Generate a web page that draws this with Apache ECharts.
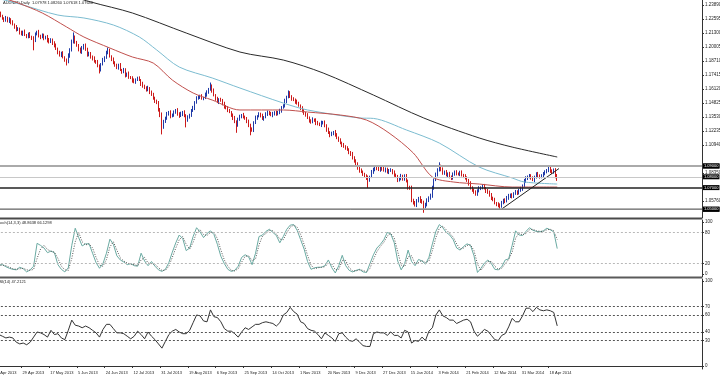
<!DOCTYPE html>
<html><head><meta charset="utf-8">
<script src="https://cdn.jsdelivr.net/npm/echarts@6/dist/echarts.min.js"></script>
<style>html,body{margin:0;padding:0;background:#fff}#c{width:720px;height:375px}</style>
</head><body><div id="c"></div>
<script>
// ---------- data ----------
const headerText = 'AUDNZD,Daily  1.07978 1.08260 1.07618 1.07640';
const stochText = 'Stoch(14,3,3) 48.8638 66.1298';
const rsiText = 'RSI(14) 47.2121';
const firstDate = [2013, 3, 10];   // 10 Apr 2013, Sunday bars included, no Saturdays
const firstOpen = 1.2330;
const closes = [
1.2340,1.2318,1.2335,1.2306,1.2290,1.2262,1.2250,1.2271,1.2240,1.2255,
1.2232,1.2210,1.2185,1.2158,1.2170,1.2135,1.2120,1.2140,1.2112,1.2098,
1.2120,1.2095,1.2084,1.2060,1.2118,1.2139,1.2105,1.2093,1.2110,1.2080,
1.2095,1.2062,1.2047,1.2070,1.2035,1.2019,1.1985,1.1950,1.1926,1.1945,
1.1905,1.1880,1.1862,1.1920,1.1973,1.2050,1.2095,1.2040,1.2019,1.1980,
1.1954,1.1990,1.2019,1.1975,1.1930,1.1945,1.1905,1.1898,1.1870,1.1862,
1.1825,1.1790,1.1840,1.1880,1.1905,1.1950,1.1968,1.1915,1.1890,1.1850,
1.1834,1.1810,1.1830,1.1788,1.1770,1.1790,1.1741,1.1755,1.1720,1.1714,
1.1690,1.1677,1.1700,1.1712,1.1695,1.1660,1.1640,1.1621,1.1605,1.1620,
1.1584,1.1560,1.1529,1.1505,1.1482,1.1420,1.1371,1.1260,1.1310,1.1344,
1.1380,1.1399,1.1360,1.1371,1.1395,1.1418,1.1385,1.1362,1.1380,1.1399,
1.1365,1.1325,1.1350,1.1371,1.1410,1.1436,1.1490,1.1529,1.1540,1.1547,
1.1525,1.1529,1.1560,1.1584,1.1610,1.1640,1.1600,1.1556,1.1520,1.1492,
1.1515,1.1510,1.1475,1.1450,1.1436,1.1415,1.1399,1.1370,1.1344,1.1310,
1.1279,1.1330,1.1360,1.1371,1.1350,1.1344,1.1310,1.1279,1.1240,1.1233,
1.1300,1.1344,1.1360,1.1381,1.1365,1.1340,1.1353,1.1380,1.1399,1.1385,
1.1370,1.1381,1.1395,1.1380,1.1399,1.1410,1.1440,1.1455,1.1500,1.1538,
1.1575,1.1545,1.1520,1.1510,1.1495,1.1482,1.1460,1.1436,1.1410,1.1390,
1.1370,1.1344,1.1320,1.1307,1.1330,1.1325,1.1300,1.1290,1.1279,1.1300,
1.1307,1.1270,1.1233,1.1210,1.1186,1.1200,1.1214,1.1190,1.1160,1.1140,
1.1115,1.1094,1.1080,1.1066,1.1050,1.1029,1.1010,1.0974,1.0950,1.0915,
1.0881,1.0860,1.0844,1.0825,1.0807,1.0790,1.0770,1.0800,1.0844,1.0870,
1.0881,1.0875,1.0863,1.0880,1.0872,1.0860,1.0872,1.0844,1.0855,1.0863,
1.0840,1.0816,1.0800,1.0770,1.0790,1.0807,1.0780,1.0807,1.0760,1.0700,
1.0696,1.0585,1.0560,1.0539,1.0575,1.0604,1.0580,1.0567,1.0525,1.0540,
1.0585,1.0600,1.0622,1.0700,1.0770,1.0820,1.0863,1.0900,1.0870,1.0835,
1.0844,1.0816,1.0830,1.0800,1.0789,1.0820,1.0844,1.0830,1.0826,1.0840,
1.0815,1.0807,1.0790,1.0770,1.0740,1.0696,1.0680,1.0655,1.0641,1.0670,
1.0696,1.0700,1.0715,1.0695,1.0670,1.0659,1.0630,1.0604,1.0590,1.0557,
1.0545,1.0540,1.0530,1.0560,1.0585,1.0575,1.0604,1.0620,1.0631,1.0620,
1.0645,1.0659,1.0650,1.0678,1.0690,1.0715,1.0760,1.0789,1.0800,1.0807,
1.0790,1.0770,1.0800,1.0826,1.0810,1.0800,1.0807,1.0830,1.0844,1.0860,
1.0881,1.0850,1.0844,1.0863,1.0798,1.0764];
// wick extensions beyond the body, in pips
const hiWick = [
15,10,18,12,22,9,14,17,10,20,12,16,8,19,14,10,17,12,22,9,
14,19,10,16,17,12,20,9,16,14,10,17,22,12,9,19,14,10,16,12,
17,10,14,22,16,19,40,12,17,9,16,20,10,14,19,12,9,17,16,10,
19,14,12,20,10,16,28,17,9,14,19,12,16,22,10,17,14,9,19,12,
16,20,10,14,17,9,19,12,16,22,10,14,17,12,9,19,16,24,17,12,
20,10,16,14,19,9,17,12,22,10,16,14,19,12,17,20,10,16,14,12,
17,10,19,16,12,32,14,17,9,20,12,16,10,19,14,17,12,9,16,19,
12,17,14,10,20,16,9,19,12,17,14,22,10,16,12,19,9,17,14,10,
16,20,12,17,10,19,14,16,22,12,24,17,10,16,14,19,12,9,17,16,
10,19,14,12,20,9,16,17,12,19,10,14,16,22,12,17,10,19,14,12,
16,10,19,12,17,14,9,20,16,12,19,10,17,14,12,16,22,10,19,14,
17,12,16,20,10,19,14,12,17,16,9,19,14,17,10,20,12,16,19,14,
17,22,12,16,19,10,17,14,12,20,16,19,22,17,14,19,16,34,12,17,
14,19,10,16,12,20,14,17,10,16,19,12,17,14,10,19,16,12,20,14,
17,12,16,19,10,17,14,20,12,16,10,19,14,17,12,16,19,22,14,17,
12,19,16,10,17,14,20,16,12,19,17,14,10,16,19,12,17,14,16,12,
14,16,19,14,17,28];
const loWick = [
12,17,10,20,14,9,19,16,12,17,22,10,16,14,9,19,12,17,10,16,
17,12,19,90,14,10,16,20,12,17,9,19,14,10,16,22,12,17,14,19,
10,16,32,12,19,14,17,9,16,20,12,17,14,10,19,16,12,22,14,17,
12,34,16,10,19,14,17,12,20,9,16,14,19,10,17,12,22,16,14,10,
19,12,17,14,9,20,16,10,17,14,19,12,16,22,10,17,19,68,16,12,
17,14,19,10,16,12,20,17,9,19,14,68,16,12,17,10,19,14,16,20,
12,17,10,19,16,14,22,12,17,10,19,16,14,20,12,17,10,16,19,14,
72,16,12,19,10,17,14,20,56,16,19,12,17,10,16,14,22,12,17,16,
10,19,14,16,12,20,17,10,14,19,12,16,17,10,20,14,12,19,16,17,
14,10,19,16,12,17,22,14,10,19,16,12,17,14,20,10,16,19,12,17,
14,19,12,16,10,20,17,14,19,12,16,22,10,17,14,19,74,16,12,17,
19,14,10,17,16,12,20,14,19,10,17,16,12,19,14,22,16,17,12,19,
16,20,17,14,19,12,22,16,58,17,14,19,12,16,20,10,17,14,19,16,
17,12,20,14,19,16,10,17,14,20,12,19,16,17,22,14,19,12,16,17,
14,19,16,12,20,17,14,19,16,12,17,22,32,16,14,19,12,17,16,20,
16,12,19,14,17,20,12,16,19,14,17,10,19,16,12,17,14,19,16,12,
17,14,19,16,12,2];
// moving averages read at points: [bar index, price]
const maRed = [[0,1.2480],[8,1.2440],[14,1.2408],[28,1.2315],[42,1.2186],[52,1.2093],[67,1.1991],[80,1.1908],[92,1.1852],[103,1.1695],[115,1.1575],[126,1.1510],[142,1.1418],[167,1.1418],[181,1.1399],[200,1.1371],[215,1.1325],[228,1.1205],[242,1.1020],[253,1.0798],[265,1.0752],[280,1.0733],[299,1.0705],[325,1.0705]];
const maBlue = [[0,1.2460],[15,1.2398],[37,1.2296],[52,1.2269],[69,1.2204],[84,1.2093],[94,1.1973],[107,1.1815],[126,1.1714],[142,1.1621],[167,1.1482],[181,1.1418],[211,1.1344],[219,1.1340],[238,1.1233],[257,1.1112],[280,1.0890],[299,1.0789],[306,1.0752],[325,1.0733]];
const maBlack = [[15,1.2611],[56,1.2417],[80,1.2315],[111,1.2130],[142,1.1954],[167,1.1880],[190,1.1760],[219,1.1556],[248,1.1344],[280,1.1159],[299,1.1075],[325,1.0983]];
const trendLine = [[293,1.0502],[326,1.0876]];
const levels = [
  {v:1.0937, c:'#444', w:1}, {v:1.0900, c:'#aaa', w:2},
  {v:1.0715, c:'#222', w:1.5}, {v:1.0502, c:'#555', w:1}, {v:1.0465, c:'#999', w:1.5}];
const priceTicks = [1.23890,1.22595,1.21300,1.20005,1.18710,1.17415,1.16120,1.14825,1.13530,1.12235,1.10940,1.08350,1.05760];
// oscillators: one value every second bar (bars 1,3,5,...,325)
const stochK = [17,17,18,14,11,9,8,13,10,4, 8,15,59,55,50,41,44,41,18,9, 4,12,55,88,70,54,58,58,40,22,
 11,20,40,67,57,35,27,23,18,20, 16,15,40,25,16,24,15,8,5,9, 22,42,60,75,68,45,50,72,89,81,
 70,78,83,76,57,34,20,9,5,7, 15,32,37,33,18,40,72,75,82,86, 80,74,60,72,86,94,95,84,66,48,
 24,9,12,13,13,16,27,12,2,16, 36,16,7,4,7,9,4,3,20,37, 50,57,66,80,77,60,25,8,20,46,
 24,16,28,25,19,32,58,82,95,89, 80,75,66,50,46,53,58,55,35,3, 11,21,27,20,9,8,14,27,29,55,
 83,75,74,82,89,84,82,81,83,88, 85,81,48.86];
const stochD = [18,17,17,16,13,10,9,10,11,8, 7,9,30,48,55,47,44,42,30,15, 8,7,30,62,80,62,56,58,50,32,
 17,15,28,52,62,46,31,25,21,19, 18,16,27,32,21,20,19,12,7,7, 15,32,50,66,72,57,48,61,80,85,
 76,74,80,80,68,46,27,15,7,6, 10,23,34,35,26,29,56,73,78,84, 83,77,67,66,79,90,94,90,76,57,
 36,17,10,12,13,14,21,19,8,9, 26,26,12,6,6,8,7,4,11,28, 43,53,61,73,78,69,43,17,14,33,
 35,20,22,26,22,25,45,70,88,92, 85,78,71,58,48,50,55,56,45,19, 7,16,24,24,15,9,11,20,28,42,
 69,79,75,78,85,86,83,82,82,85, 86,83,66.13];
const rsi = [38,37,35,33,34,33,28,26,27,25, 28,34,40,39,37,34,42,37,38,33, 31,42,54,48,47,45,47,45,42,39,
 34,43,49,49,44,39,39,38,35,32, 35,41,37,32,40,35,31,26,21,29, 37,41,43,40,38,38,42,51,60,59,
 53,52,66,58,57,52,44,41,41,38, 34,40,45,43,46,49,49,51,52,51, 50,47,51,60,63,69,64,61,52,50,
 44,42,41,37,32,39,36,33,29,38, 39,34,30,29,32,28,24,23,23,38, 40,39,39,36,40,36,36,33,42,40,
 27,30,29,34,30,41,45,60,66,59, 57,54,54,50,52,54,55,52,41,35, 39,43,41,36,31,30,36,38,46,56,
 52,52,59,68,68,64,69,66,65,66, 65,63,47.21];
const stochTicks = [100,80,20,0];
const stochLevels = [80,20];
const rsiTicks = [100,70,60,40,30,0];
const rsiLevels = [70,60,40,30];

// ---------- build ----------
const FONT = 'Liberation Sans';
const NCAT = 409;
const MON = ['Jan','Feb','Mar','Apr','May','Jun','Jul','Aug','Sep','Oct','Nov','Dec'];
const cats = [];
let d = new Date(firstDate[0], firstDate[1], firstDate[2]);
for (let i = 0; i < NCAT; i++) {
  if (i < closes.length) {
    while (d.getDay() === 6) d.setDate(d.getDate() + 1);
    cats.push(d.getDate() + ' ' + MON[d.getMonth()] + ' ' + d.getFullYear());
    d.setDate(d.getDate() + 1);
  } else cats.push('');
}
const candles = closes.map((c, i) => {
  const o = i ? closes[i - 1] : firstOpen;
  return [o, c, Math.min(o, c) - (loWick[i] || 0) / 1e4, Math.max(o, c) + (hiWick[i] || 0) / 1e4];
});
const osc = arr => arr.map((v, k) => [1 + 2 * k, v]);
const lastClose = closes[closes.length - 1];
const showDate = (idx, val) => idx % 16 === 0 && val !== '';

const gridBase = {left: -7.12, right: 18, outerBoundsMode: 'none', containLabel: false};
const xBase = (gi, show) => ({
  type: 'category', gridIndex: gi, data: cats, boundaryGap: true,
  axisLine: {show: show, lineStyle: {color: '#333', width: 1}},
  axisTick: {show: show, alignWithLabel: true, interval: showDate, length: 2, lineStyle: {color: '#333'}},
  axisLabel: {show: show, interval: showDate, align: 'left', fontSize: 4, color: '#222', margin: 2,
    fontFamily: FONT, padding: [0, 0, 0, 1]},
  splitLine: {show: false}
});
const yBase = (gi, min, max, ticks, fmt) => ({
  type: 'value', gridIndex: gi, position: 'right', min: min, max: max,
  axisLine: {show: true, lineStyle: {color: '#333', width: 1}},
  axisTick: {show: true, length: 2, customValues: ticks, lineStyle: {color: '#333'}},
  axisLabel: {customValues: ticks, formatter: fmt, fontSize: 4.5, color: '#222', margin: 3, fontFamily: FONT},
  splitLine: {show: false}
});
const boxLabel = {show: true, position: 'end', distance: 1, formatter: p => p.value.toFixed(5),
  backgroundColor: '#000', color: '#fff', fontSize: 4, fontFamily: FONT, padding: [0.5, 1]};
const levelLines = levels.map(l => ({yAxis: l.v, lineStyle: {color: l.c, width: l.w, type: 'solid'}, label: boxLabel}));
levelLines.push({yAxis: lastClose, lineStyle: {color: '#c8c8c8', width: 1, type: 'solid'}, label: boxLabel});
const dashLevels = (arr, col) => ({symbol: 'none', silent: true, animation: false,
  label: {show: false}, lineStyle: {color: col, type: [2, 2], width: 1},
  data: arr.map(v => ({yAxis: v}))});
const lineS = (data, col, xi, extra) => Object.assign({type: 'line', xAxisIndex: xi, yAxisIndex: xi, data: data,
  showSymbol: false, symbol: 'none', lineStyle: {color: col, width: 1}, itemStyle: {color: col},
  animation: false, silent: true, clip: true}, extra || {});

const chart = echarts.init(document.getElementById('c'), null, {renderer: 'canvas'});
chart.setOption({
  backgroundColor: '#fff',
  animation: false,
  textStyle: {fontFamily: FONT},
  grid: [
    Object.assign({top: 0, height: 218}, gridBase),
    Object.assign({top: 220, height: 57}, gridBase),
    Object.assign({top: 279, height: 90}, gridBase)
  ],
  xAxis: [xBase(0, false), xBase(1, false), xBase(2, true)],
  yAxis: [
    yBase(0, 1.04188, 1.24353, priceTicks, v => v.toFixed(5)),
    yBase(1, -5.77, 103.85, stochTicks, v => String(v)),
    yBase(2, -3.53, 102.35, rsiTicks, v => String(v))
  ],
  series: [
    lineS(maBlack, '#2a2a2a', 0, {smooth: 0.3}),
    lineS(maBlue, '#7cbcd0', 0, {smooth: 0.3}),
    lineS(maRed, '#c0504d', 0, {smooth: 0.3}),
    {type: 'candlestick', xAxisIndex: 0, yAxisIndex: 0, data: candles, barWidth: 1,
      animation: false, silent: true,
      itemStyle: {color: '#1f3aa8', color0: '#cc1a1a', borderColor: '#1f3aa8', borderColor0: '#cc1a1a', borderWidth: 1},
      markLine: {symbol: 'none', silent: true, animation: false, data: levelLines}},
    lineS(trendLine, '#222', 0),
    Object.assign(lineS(osc(stochK), '#6aaaa2', 1), {markLine: dashLevels(stochLevels, '#b8b8b8')}),
    lineS(osc(stochD), '#555', 1, {lineStyle: {color: '#555', width: 1, type: [1, 1.5]}}),
    Object.assign(lineS(osc(rsi), '#333', 2), {markLine: dashLevels(rsiLevels, '#555')})
  ],
  graphic: [
    {type: 'text', x: 3, y: 1, style: {text: headerText, fontSize: 4, fontFamily: FONT, fill: '#222', verticalAlign: 'top'}},
    {type: 'rect', shape: {x: 0, y: 217.5, width: 702, height: 2}, style: {fill: '#4a4a4a'}},
    {type: 'rect', shape: {x: 0, y: 276.5, width: 702, height: 2}, style: {fill: '#5a5a5a'}},
    {type: 'text', x: -3.5, y: 221, style: {text: stochText, fontSize: 4, fontFamily: FONT, fill: '#222', verticalAlign: 'top'}},
    {type: 'text', x: -3.5, y: 280, style: {text: rsiText, fontSize: 4, fontFamily: FONT, fill: '#222', verticalAlign: 'top'}}
  ]
});
</script>
</body></html>
